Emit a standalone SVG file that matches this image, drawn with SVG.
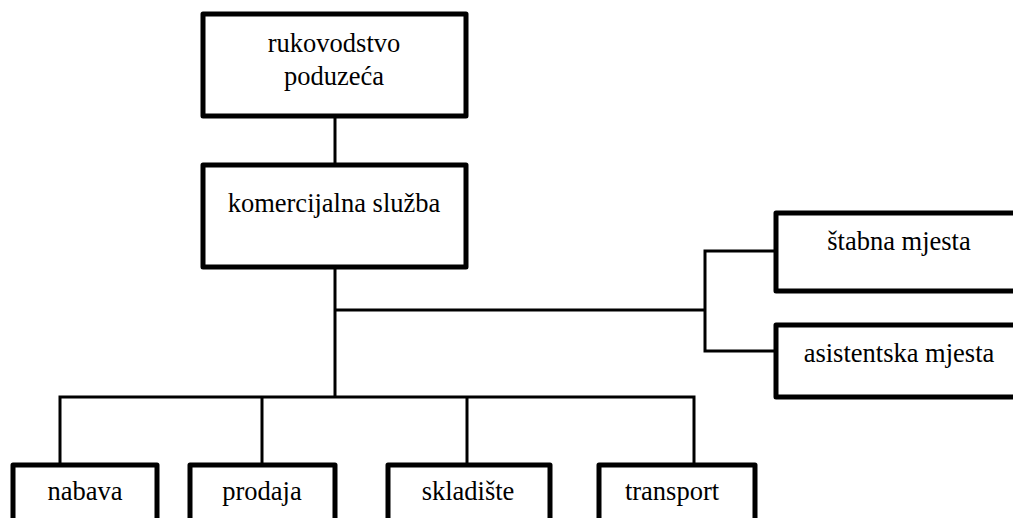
<svg xmlns="http://www.w3.org/2000/svg" width="1013" height="518" viewBox="0 0 1013 518" font-family="Liberation Serif">
<defs>
<style>
rect.box{fill:#fff;stroke:#000;stroke-width:5px;stroke-linejoin:round}
.conn{fill:none;stroke:#000;stroke-width:3px}
text{font-family:Liberation Serif;font-size:26.5px;fill:#000;text-anchor:middle}
</style>
</defs>
<rect width="1013" height="518" fill="#fff"/>
<g id="connectors">
<line class="conn" x1="335" y1="116" x2="335" y2="165"/>
<line class="conn" x1="335" y1="267" x2="335" y2="397"/>
<line class="conn" x1="335" y1="310" x2="705" y2="310"/>
<polyline class="conn" points="776,251 705,251 705,351 776,351"/>
<polyline class="conn" points="60,465 60,397 694,397 694,465"/>
<line class="conn" x1="262" y1="397" x2="262" y2="465"/>
<line class="conn" x1="467" y1="397" x2="467" y2="465"/>
</g>
<g id="rukovodstvo">
<rect class="box" x="203" y="14" width="263" height="102"/>
<text x="334" y="52">rukovodstvo</text>
<text x="334" y="85">poduzeća</text>
</g>
<g id="komercijalna">
<rect class="box" x="203" y="165" width="263" height="102"/>
<text x="334" y="212">komercijalna služba</text>
</g>
<g id="stabna">
<rect class="box" x="776" y="213" width="260" height="78"/>
<text x="899" y="250">štabna mjesta</text>
</g>
<g id="asistentska">
<rect class="box" x="776" y="325" width="260" height="72"/>
<text x="899" y="362">asistentska mjesta</text>
</g>
<g id="nabava">
<rect class="box" x="13" y="465" width="144" height="80"/>
<text x="85" y="500">nabava</text>
</g>
<g id="prodaja">
<rect class="box" x="190" y="465" width="145" height="80"/>
<text x="262" y="500">prodaja</text>
</g>
<g id="skladiste">
<rect class="box" x="388" y="465" width="162" height="80"/>
<text x="468" y="500">skladište</text>
</g>
<g id="transport">
<rect class="box" x="599" y="465" width="156" height="80"/>
<text x="672" y="500">transport</text>
</g>
</svg>
